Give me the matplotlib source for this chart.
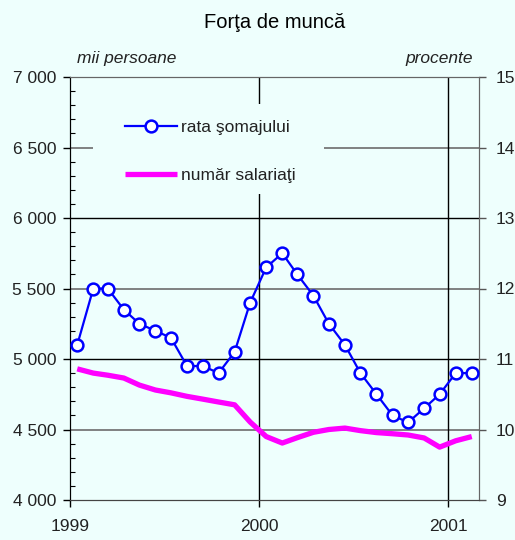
import matplotlib.pyplot as plt
import matplotlib.dates as mdates
from matplotlib.patches import Rectangle
import pandas as pd

plt.rcParams['font.family'] = ['Liberation Sans', 'DejaVu Sans']

# monthly data, Jan 1999 - Feb 2001
months = pd.date_range('1999-01-01', '2001-02-01', freq='MS') + pd.Timedelta(days=14)

# rata somajului, procente (right axis)
rata_somaj = [11.2, 12.0, 12.0, 11.7, 11.5, 11.4, 11.3, 10.9, 10.9, 10.8, 11.1, 11.8,
              12.3, 12.5, 12.2, 11.9, 11.5, 11.2, 10.8, 10.5, 10.2, 10.1, 10.3, 10.5,
              10.8, 10.8]

# numar salariati, mii persoane (left axis)
nr_salariati = [4930, 4900, 4885, 4865, 4815, 4780, 4760, 4735, 4715, 4695, 4675, 4553,
                4450, 4404, 4442, 4480, 4500, 4510, 4492, 4478, 4470, 4461, 4440, 4375,
                4420, 4450]

year_ticks = ['1999', '2000', '2001']

bg = '#eefffd'
blue = '#0000ff'
magenta = '#ff00ff'
txt = '#222222'

fig = plt.figure(figsize=(5.15, 5.4), dpi=100, facecolor=bg)
ax = fig.add_axes([70 / 515, 1 - 500 / 540, 409 / 515, 423 / 540])
ax.set_facecolor(bg)
ax2 = ax.twinx()

ax.set_xlim(pd.Timestamp('1999-01-01'), pd.Timestamp('2001-03-01'))
ax.set_ylim(4000, 7000)
ax2.set_ylim(9, 15)

# grid
for v in [4500, 5500, 6500]:
    ax.axhline(v, color='#777777', lw=1.3, zorder=1)
for v in [5000, 6000]:
    ax.axhline(v, color='black', lw=1.0, zorder=1)
for y in year_ticks[1:]:
    ax.axvline(pd.Timestamp(y + '-01-01'), color='black', lw=1.0, zorder=1)

# blank area behind the legend
ax.add_patch(Rectangle((93 / 515, 1 - 194 / 540), 231 / 515, 90 / 540,
                       transform=fig.transFigure, facecolor=bg, edgecolor='none',
                       zorder=2))

l2, = ax.plot(months, nr_salariati, color=magenta, lw=3.8, solid_capstyle='butt',
              zorder=3, label='număr salariaţi')
l1, = ax2.plot(months, rata_somaj, color=blue, lw=1.6, marker='o', ms=8.5,
               mfc='white', mec=blue, mew=1.8, zorder=4, label='rata şomajului')

# left axis
ax.set_yticks([4000, 4500, 5000, 5500, 6000, 6500, 7000])
ax.set_yticklabels([f'{v:,}'.replace(',', ' ') for v in range(4000, 7001, 500)])
ax.set_yticks(range(4000, 7001, 100), minor=True)
ax.tick_params(axis='y', which='major', direction='out', length=5, width=1,
               labelsize=12.5, labelcolor=txt, pad=5)
ax.tick_params(axis='y', which='minor', direction='in', length=3.5, width=0.8)

# bottom axis
ax.set_xticks([pd.Timestamp(y + '-01-01') for y in year_ticks])
ax.set_xticklabels(year_ticks)
ax.xaxis.set_minor_locator(mdates.MonthLocator(bymonth=[1]))
ax.tick_params(axis='x', which='major', direction='out', length=5, width=1,
               labelsize=12.5, labelcolor=txt, pad=9)

# right axis
ax2.set_yticks(range(9, 16))
ax2.tick_params(axis='y', which='major', direction='out', length=5, width=1,
                labelsize=12.5, pad=7, color='#555555', labelcolor=txt)

for a in (ax, ax2):
    a.spines['top'].set_color('#666666')
    a.spines['right'].set_color('#666666')
    a.spines['bottom'].set_color('#444444')
    a.spines['left'].set_color('black')

fig.text(275 / 515, 1 - 22 / 540, 'Forţa de muncă', ha='center', va='center',
         fontsize=14.5, color='black')
fig.text(77 / 515, 1 - 58 / 540, 'mii persoane', ha='left', va='center',
         fontsize=12.5, style='italic', color=txt)
fig.text(473 / 515, 1 - 58 / 540, 'procente', ha='right', va='center',
         fontsize=12.5, style='italic', color=txt)

leg = ax2.legend(handles=[l1, l2], loc='upper left',
                 bbox_to_anchor=(125 / 515, 1 - 120 / 540), bbox_transform=fig.transFigure,
                 fontsize=12.5, handlelength=3.0, handletextpad=0.25, labelspacing=1.9,
                 borderpad=0, borderaxespad=0, frameon=False)
for t in leg.get_texts():
    t.set_color(txt)

fig.savefig('out.png', dpi=100, facecolor=bg)
